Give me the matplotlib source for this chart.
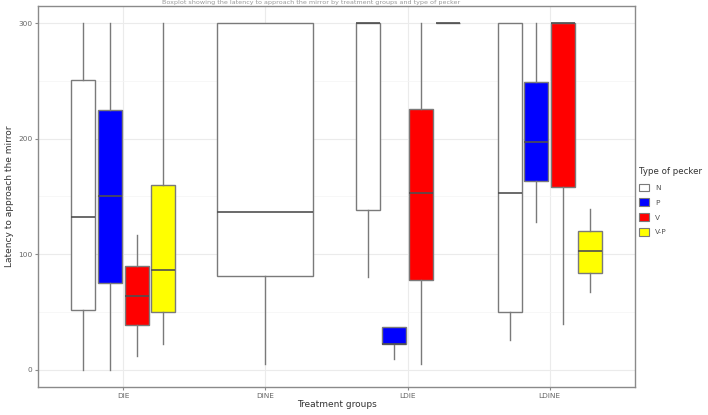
import matplotlib
matplotlib.use("Agg")
import matplotlib.pyplot as plt
from matplotlib.patches import Patch

groups = ["DIE", "DINE", "LDIE", "LDINE"]
peckers = ["N", "P", "V", "V-P"]
colors = {"N": "#FFFFFF", "P": "#0000FF", "V": "#FF0000", "V-P": "#FFFF00"}

# (whisker low, Q1, median, Q3, whisker high) per group; None = absent
stats_N = [(0, 52, 132, 251, 300), (5, 81, 137, 300, 300), (80, 138, 300, 300, 300), (26, 50, 153, 300, 300)]
stats_P = [(0, 75, 150, 225, 300), None, (9, 22.5, 22.5, 37, 37), (128, 163, 197, 249, 300)]
stats_V = [(12, 39, 64, 90, 117), None, (5, 78, 153, 226, 300), (40, 158, 300, 300, 300)]
stats_VP = [(22, 50, 86, 160, 300), None, (300, 300, 300, 300, 300), (67, 84, 103, 120, 139)]
series = {"N": stats_N, "P": stats_P, "V": stats_V, "V-P": stats_VP}

title = "Boxplot showing the latency to approach the mirror by treatment groups and type of pecker"

fig = plt.figure(figsize=(7.08, 4.15), dpi=100)
ax = fig.add_axes([38 / 708, 1 - 387 / 415, (635 - 38) / 708, (387 - 6) / 415])

edge = "#7a7a7a"
dodge = 0.75
for gi, g in enumerate(groups):
    present = [p for p in peckers if series[p][gi] is not None]
    n = len(present)
    slot = dodge / n
    for k, p in enumerate(present):
        wl, q1, med, q3, wh = series[p][gi]
        pos = gi - dodge / 2 + slot * (k + 0.5)
        st = [dict(whislo=wl, q1=q1, med=med, q3=q3, whishi=wh, fliers=[])]
        ax.bxp(st, positions=[pos], widths=slot * 0.9, patch_artist=True, showcaps=False,
               boxprops=dict(facecolor=colors[p], edgecolor=edge, linewidth=1.0),
               medianprops=dict(color="#505050", linewidth=1.2),
               whiskerprops=dict(color=edge, linewidth=1.0), manage_ticks=False)

ax.set_xlim(-0.6, len(groups) - 1 + 0.6)
ax.set_ylim(-15, 315)
ax.set_xticks(range(len(groups)))
ax.set_xticklabels(groups)
ax.set_yticks([0, 100, 200, 300])
ax.set_yticks([50, 150, 250], minor=True)
ax.grid(True, which="major", color="#ebebeb", linewidth=0.8)
ax.grid(True, which="minor", axis="y", color="#f4f4f4", linewidth=0.5)
ax.set_axisbelow(True)
for s in ax.spines.values():
    s.set_color("#8a8a8a")
    s.set_linewidth(1.0)
ax.tick_params(axis="both", which="major", labelsize=5.3, labelcolor="#666666", color="#8a8a8a",
               length=2.0, pad=2)
ax.tick_params(axis="y", which="minor", length=0)
ax.set_xlabel("Treatment groups", fontsize=6.5, color="#333333", labelpad=1)
ax.set_ylabel("Latency to approach the mirror", fontsize=6.5, color="#333333", labelpad=3)

handles = [Patch(facecolor=colors[p], edgecolor=edge, linewidth=0.8, label=p) for p in peckers]
leg = fig.legend(handles=handles, title="Type of pecker", loc="upper left",
                 bbox_to_anchor=(634 / 708, 1 - 162 / 415), frameon=False, borderaxespad=0.3,
                 fontsize=5.3, title_fontsize=6.2, handlelength=1.4, handleheight=1.2,
                 labelspacing=1.0, alignment="left")
for t in leg.get_texts():
    t.set_color("#555555")
leg.get_title().set_color("#333333")

fig.text(0.44, 0.999, title, ha="center", va="top", fontsize=4.6, color="#999999")

fig.savefig("out.png", dpi=100)
